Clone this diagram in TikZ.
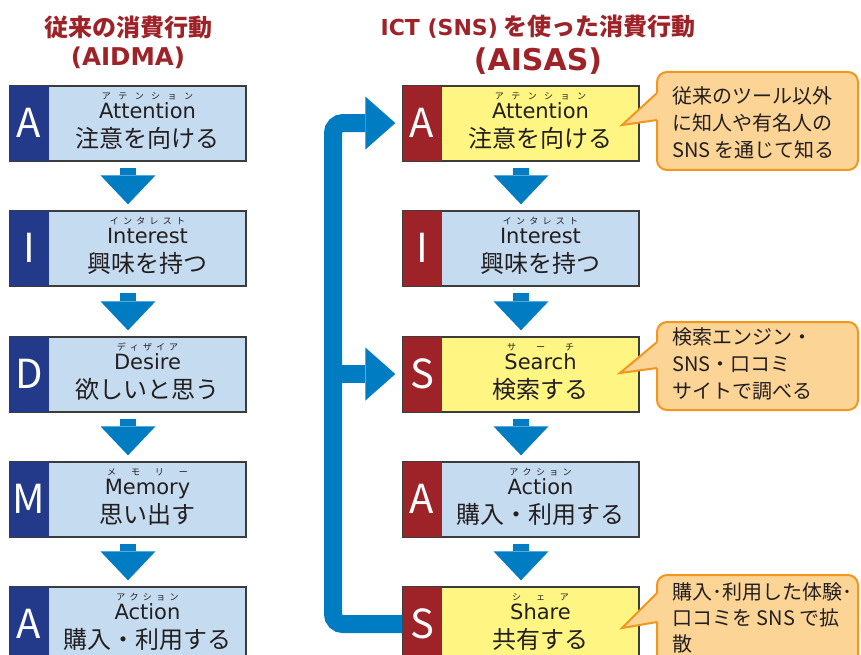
\documentclass[tikz,border=0pt]{standalone}
\usepackage{fontspec}
\setmainfont{DejaVu Sans}
\newfontfamily\jp{Noto Sans CJK JP}
\usetikzlibrary{arrows.meta}

\definecolor{tred}{RGB}{158,35,40}
\definecolor{dblue}{RGB}{35,58,138}
\definecolor{lblue}{RGB}{197,219,240}
\definecolor{lyel}{RGB}{255,245,130}
\definecolor{arrblue}{RGB}{0,124,195}
\definecolor{cfill}{RGB}{252,212,150}
\definecolor{corange}{RGB}{243,150,30}
\definecolor{boxline}{RGB}{60,60,60}
\definecolor{ink}{RGB}{35,31,32}

% kana spread over the width of the word below it
\newcommand\furi[2]{\sbox0{\fontsize{21}{21}\selectfont #2}\makebox[\wd0][s]{#1}}

\begin{document}
\begin{tikzpicture}[x=1pt,y=-1pt,
    box/.style={draw=boxline,line width=1.3pt,minimum width=236pt,minimum height=75pt,inner sep=0pt},
    bluebox/.style={box,fill=lblue},
    yelbox/.style={box,fill=lyel},
    lblk/.style={fill=dblue,text=white,minimum width=39pt,minimum height=75pt,inner sep=0pt,
        anchor=north west,font=\jp\fontsize{40}{40}\selectfont},
    rblk/.style={lblk,fill=tred},
    kana/.style={anchor=base,inner sep=0pt,text=ink,font=\jp\fontsize{9}{9}\selectfont},
    eng/.style={anchor=base,inner sep=0pt,text=ink,font=\fontsize{21}{21}\selectfont},
    jtxt/.style={anchor=base,inner sep=0pt,text=ink,font=\jp\fontsize{24}{24}\selectfont},
    downarr/.style={draw=arrblue,line width=16pt,-{Triangle[width=55pt,length=29pt,line width=0pt]}},
    pipe/.style={draw=arrblue,line width=18pt,rounded corners=10pt,
        -{Triangle[width=53pt,length=30pt,line width=0pt]}},
    callout/.style={draw=corange,line width=2pt,fill=cfill,rounded corners=10pt},
    ctext/.style={anchor=west,align=left,inner sep=0pt,text=ink,font=\jp\fontsize{20}{27}\selectfont},
    title/.style={text=tred,inner sep=0pt,font=\jp\bfseries\fontsize{24}{24}\selectfont}]
\useasboundingbox (0,0) rectangle (861,655);
\clip (0,0) rectangle (861,655);

% titles
\node[title] (t1) at (128,27) {従来の消費行動};
\node[title] (t1b) at (128,58) {\rmfamily\fontsize{24.5}{24.5}\selectfont (AIDMA)};
\node[title] (t2) at (538,27) {{\rmfamily\fontsize{22}{22}\selectfont ICT (SNS)} を使った消費行動};
\node[title] (t2b) at (538,61) {\rmfamily\fontsize{30}{30}\selectfont (AISAS)};

% AIDMA
\node[bluebox] (l1) at (128,123.5) {};
\node[lblk] (l1k) at (l1.north west) {A};
\node[kana] at ([xshift=19.5pt,yshift=-14.5pt]l1.north) {\furi{ア\hfil テ\hfil ン\hfil シ\hfil ョ\hfil ン}{Attention}};
\node[eng] at ([xshift=19.5pt,yshift=-33.5pt]l1.north) {Attention};
\node[jtxt] at ([xshift=19.5pt,yshift=-62pt]l1.north) {注意を向ける};

\node[bluebox] (l2) at (128,248.5) {};
\node[lblk] (l2k) at (l2.north west) {I};
\node[kana] at ([xshift=19.5pt,yshift=-14.5pt]l2.north) {\furi{イ\hfil ン\hfil タ\hfil レ\hfil ス\hfil ト}{Interest}};
\node[eng] at ([xshift=19.5pt,yshift=-33.5pt]l2.north) {Interest};
\node[jtxt] at ([xshift=19.5pt,yshift=-62pt]l2.north) {興味を持つ};

\node[bluebox] (l3) at (128,374.5) {};
\node[lblk] (l3k) at (l3.north west) {D};
\node[kana] at ([xshift=19.5pt,yshift=-14.5pt]l3.north) {\furi{デ\hfil ィ\hfil ザ\hfil イ\hfil ア}{Desire}};
\node[eng] at ([xshift=19.5pt,yshift=-33.5pt]l3.north) {Desire};
\node[jtxt] at ([xshift=19.5pt,yshift=-62pt]l3.north) {欲しいと思う};

\node[bluebox] (l4) at (128,499.5) {};
\node[lblk] (l4k) at (l4.north west) {M};
\node[kana] at ([xshift=19.5pt,yshift=-14.5pt]l4.north) {\furi{メ\hfil モ\hfil リ\hfil ー}{Memory}};
\node[eng] at ([xshift=19.5pt,yshift=-33.5pt]l4.north) {Memory};
\node[jtxt] at ([xshift=19.5pt,yshift=-62pt]l4.north) {思い出す};

\node[bluebox] (l5) at (128,624.5) {};
\node[lblk] (l5k) at (l5.north west) {A};
\node[kana] at ([xshift=19.5pt,yshift=-14.5pt]l5.north) {\furi{ア\hfil ク\hfil シ\hfil ョ\hfil ン}{Action}};
\node[eng] at ([xshift=19.5pt,yshift=-33.5pt]l5.north) {Action};
\node[jtxt] at ([xshift=19.5pt,yshift=-62pt]l5.north) {購入・利用する};

% AISAS
\node[yelbox] (r1) at (521,123.5) {};
\node[rblk] (r1k) at (r1.north west) {A};
\node[kana] at ([xshift=19.5pt,yshift=-14.5pt]r1.north) {\furi{ア\hfil テ\hfil ン\hfil シ\hfil ョ\hfil ン}{Attention}};
\node[eng] at ([xshift=19.5pt,yshift=-33.5pt]r1.north) {Attention};
\node[jtxt] at ([xshift=19.5pt,yshift=-62pt]r1.north) {注意を向ける};

\node[bluebox] (r2) at (521,248.5) {};
\node[rblk] (r2k) at (r2.north west) {I};
\node[kana] at ([xshift=19.5pt,yshift=-14.5pt]r2.north) {\furi{イ\hfil ン\hfil タ\hfil レ\hfil ス\hfil ト}{Interest}};
\node[eng] at ([xshift=19.5pt,yshift=-33.5pt]r2.north) {Interest};
\node[jtxt] at ([xshift=19.5pt,yshift=-62pt]r2.north) {興味を持つ};

\node[yelbox] (r3) at (521,374.5) {};
\node[rblk] (r3k) at (r3.north west) {S};
\node[kana] at ([xshift=19.5pt,yshift=-14.5pt]r3.north) {\furi{サ\hfil ー\hfil チ}{Search}};
\node[eng] at ([xshift=19.5pt,yshift=-33.5pt]r3.north) {Search};
\node[jtxt] at ([xshift=19.5pt,yshift=-62pt]r3.north) {検索する};

\node[bluebox] (r4) at (521,499.5) {};
\node[rblk] (r4k) at (r4.north west) {A};
\node[kana] at ([xshift=19.5pt,yshift=-14.5pt]r4.north) {\furi{ア\hfil ク\hfil シ\hfil ョ\hfil ン}{Action}};
\node[eng] at ([xshift=19.5pt,yshift=-33.5pt]r4.north) {Action};
\node[jtxt] at ([xshift=19.5pt,yshift=-62pt]r4.north) {購入・利用する};

\node[yelbox] (r5) at (521,624.5) {};
\node[rblk] (r5k) at (r5.north west) {S};
\node[kana] at ([xshift=19.5pt,yshift=-14.5pt]r5.north) {\furi{シ\hfil ェ\hfil ア}{Share}};
\node[eng] at ([xshift=19.5pt,yshift=-33.5pt]r5.north) {Share};
\node[jtxt] at ([xshift=19.5pt,yshift=-62pt]r5.north) {共有する};

% down arrows
\draw[downarr] ([yshift=-6pt]l1.south) -- ([yshift=6pt]l2.north);
\draw[downarr] ([yshift=-6pt]l2.south) -- ([yshift=6pt]l3.north);
\draw[downarr] ([yshift=-6pt]l3.south) -- ([yshift=6pt]l4.north);
\draw[downarr] ([yshift=-6pt]l4.south) -- ([yshift=6pt]l5.north);
\draw[downarr] ([yshift=-6pt]r1.south) -- ([yshift=6pt]r2.north);
\draw[downarr] ([yshift=-6pt]r2.south) -- ([yshift=6pt]r3.north);
\draw[downarr] ([yshift=-6pt]r3.south) -- ([yshift=6pt]r4.north);
\draw[downarr] ([yshift=-6pt]r4.south) -- ([yshift=6pt]r5.north);

% feedback pipe
\coordinate (trunk) at (333,0);
\draw[pipe] (r5k.west) -- (r5k.west -| trunk) -- (r1k.west -| trunk) -- ([xshift=-7pt]r1k.west);
\draw[pipe] (trunk |- r3k.west) -- ([xshift=-7pt]r3k.west);

% callouts
\draw[callout] (657,72) rectangle (858,170);
\fill[cfill] (622,125) -- (657,93) -- (661,93) -- (661,120) -- (657,120) -- cycle;
\draw[corange,line width=2pt] (657,93) -- (622,125) -- (657,120);
\node[ctext] (c1) at (672,122.5) {従来のツール以外\\に知人や有名人の\\SNS を通じて知る};

\draw[callout] (657,322) rectangle (858,410);
\fill[cfill] (620,373) -- (657,342) -- (661,342) -- (661,368) -- (657,368) -- cycle;
\draw[corange,line width=2pt] (657,342) -- (620,373) -- (657,368);
\node[ctext] (c2) at (672,363.5) {検索エンジン・\\SNS・口コミ\\サイトで調べる};

\draw[callout] (657,575) rectangle (858,700);
\fill[cfill] (622,628) -- (657,593) -- (661,593) -- (661,622) -- (657,622) -- cycle;
\draw[corange,line width=2pt] (657,593) -- (622,628) -- (657,622);
\node[ctext,font=\jp\fontsize{20}{26}\selectfont] (c3) at (672,617.5) {購入･利用した体験･\\口コミを SNS で拡\\散};
\end{tikzpicture}
\end{document}
